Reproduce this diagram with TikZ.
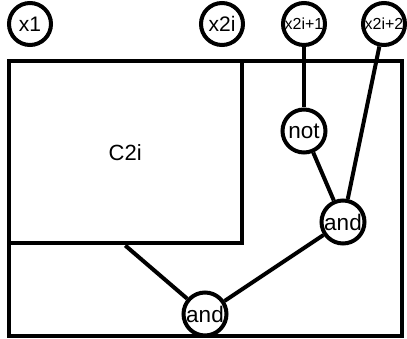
\documentclass[tikz,border=0pt]{standalone}
\usepackage{fontspec}
\setmainfont{Liberation Sans}
\begin{document}
\begin{tikzpicture}[x=1pt,y=-1pt,
  gate/.style={circle,draw,line width=4pt,fill=white,minimum size=43pt,inner sep=0pt,font=\fontsize{22.5}{22.5}\selectfont},
  inp/.style={gate,minimum size=42pt,font=\fontsize{21}{21}\selectfont},
  smallinp/.style={inp,font=\fontsize{16}{16}\selectfont},
  wire/.style={line width=4pt},
  box/.style={draw,line width=4pt,inner sep=0pt,font=\fontsize{22}{22}\selectfont}
]
\useasboundingbox (0,0) rectangle (407,339);
\draw[line width=4pt] (9,61.5) rectangle (402,335.5);
\node[box,minimum width=232.5pt,minimum height=182pt] (c2i) at (125.25,152.5) {C2i};
\node[inp] (x1) at (30,24) {x1};
\node[inp] (x2i) at (222,24) {x2i};
\node[smallinp] (x2i1) at (304,24) {x2i+1};
\node[smallinp] (x2i2) at (384,24) {x2i+2};
\node[gate] (not) at (304,131) {not};
\node[gate] (and1) at (343,222) {and};
\node[gate] (and2) at (205,314) {and};
\draw[wire] (x2i1) -- (not);
\draw[wire] (x2i2) -- (and1);
\draw[wire] (not) -- (and1);
\draw[wire] (and1) -- (and2);
\draw[wire] (c2i.south) -- (and2);
\end{tikzpicture}
\end{document}
